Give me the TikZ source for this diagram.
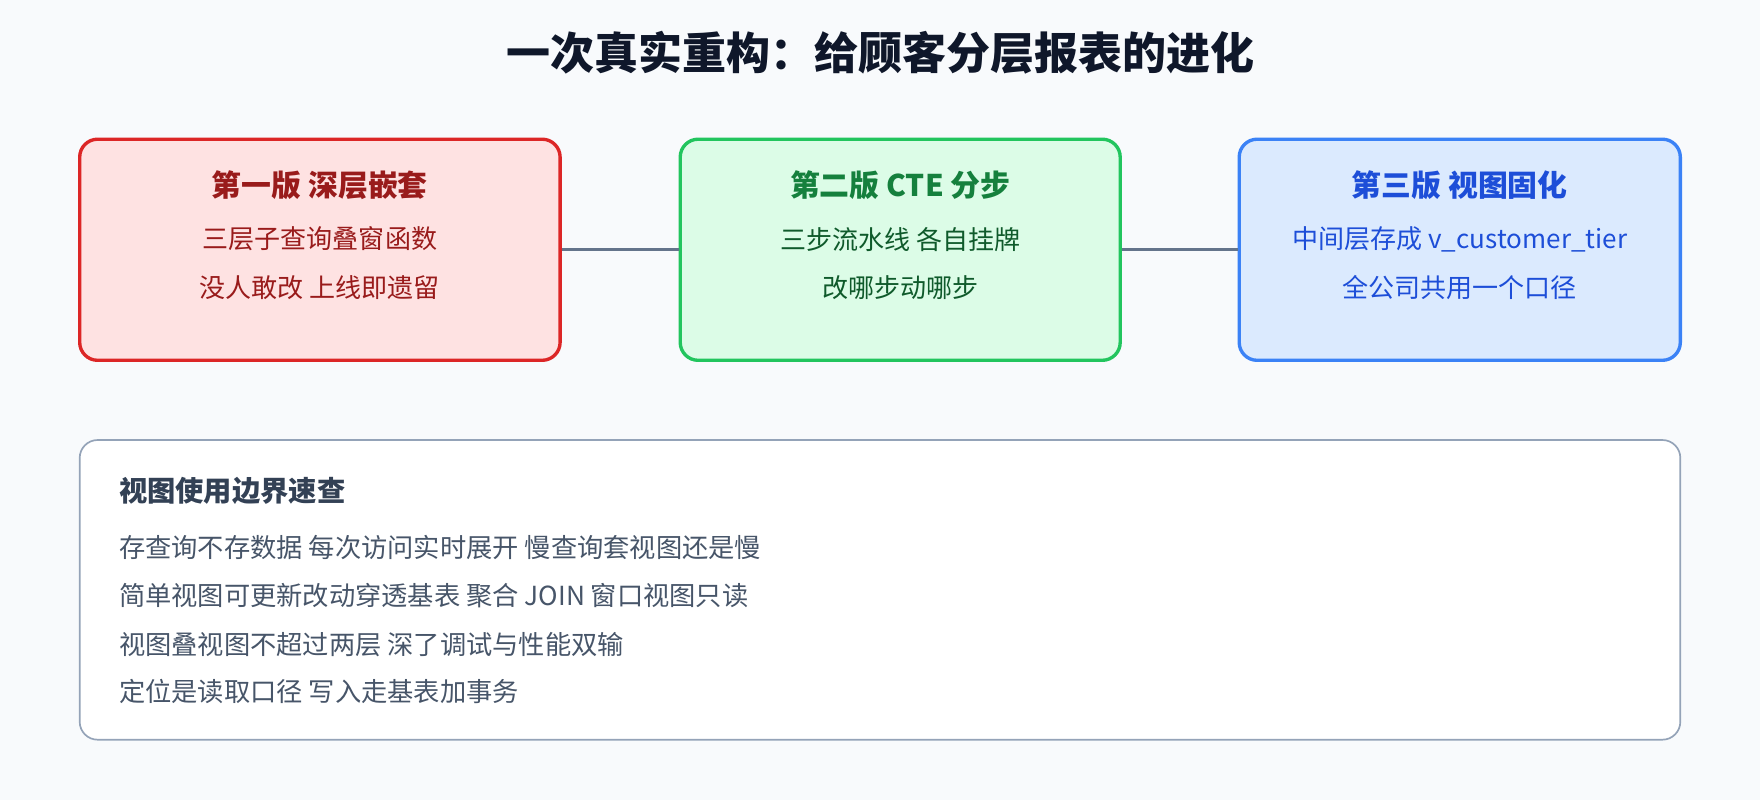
\documentclass[tikz,border=0pt]{standalone}
\usepackage{fontspec}
\setmainfont{Noto Sans CJK SC}
\usetikzlibrary{positioning}
\definecolor{bgcol}{HTML}{F8FAFC}
\definecolor{redfill}{HTML}{FEE2E2}\definecolor{redline}{HTML}{DC2626}\definecolor{redtext}{HTML}{991B1B}
\definecolor{grnfill}{HTML}{DCFCE7}\definecolor{grnline}{HTML}{22C55E}\definecolor{grntext}{HTML}{15803D}
\definecolor{blufill}{HTML}{DBEAFE}\definecolor{bluline}{HTML}{3B82F6}\definecolor{blutext}{HTML}{1D4ED8}
\definecolor{slate}{HTML}{94A3B8}\definecolor{linkcol}{HTML}{64748B}
\definecolor{darktext}{HTML}{0F172A}\definecolor{bodytext}{HTML}{475569}\definecolor{headtext}{HTML}{334155}
\tikzset{
  stage/.style={draw, line width=1.5pt, rounded corners=8pt},
  stagehead/.style={font=\fontsize{13.3}{15}\selectfont\bfseries},
  stageline/.style={font=\fontsize{11.6}{13}\selectfont},
  noteline/.style={anchor=west, text=bodytext, font=\fontsize{11.7}{13}\selectfont},
  link/.style={draw=linkcol, line width=1.5pt}
}
\begin{document}
\begin{tikzpicture}[x=0.5pt,y=-0.5pt]
  % Background and bounding box
  \fill[bgcol] (0,0) rectangle (1568,713);
  \useasboundingbox (0,0) rectangle (1568,713);

  \node[text=darktext, font=\fontsize{19.6}{23}\selectfont\bfseries] (title) at (784,47) {一次真实重构：给顾客分层报表的进化};

  % The three stages
  \node[stage, draw=redline, fill=redfill, minimum width=214pt, minimum height=98.5pt] (v1) at (285,222.5) {};
  \node[stage, draw=grnline, fill=grnfill, minimum width=196pt, minimum height=98.5pt] (v2) at (802,222.5) {};
  \node[stage, draw=bluline, fill=blufill, minimum width=196.5pt, minimum height=98.5pt] (v3) at (1300.5,222.5) {};

  \draw[link] (v1.east) -- (v2.west);
  \draw[link] (v2.east) -- (v3.west);

  \node[stagehead, text=redtext] (v1h) at (285,165) {第一版 深层嵌套};
  \node[stageline, text=redtext] (v1a) at (285,213) {三层子查询叠窗函数};
  \node[stageline, text=redtext] (v1b) at (285,256) {没人敢改 上线即遗留};

  \node[stagehead, text=grntext] (v2h) at (802,165) {第二版 CTE 分步};
  \node[stageline, text=grntext!70!black] (v2a) at (802,213) {三步流水线 各自挂牌};
  \node[stageline, text=grntext!70!black] (v2b) at (802,256) {改哪步动哪步};

  \node[stagehead, text=blutext] (v3h) at (1300.5,165) {第三版 视图固化};
  \node[stageline, text=blutext] (v3a) at (1300.5,213) {中间层存成 v\_customer\_tier};
  \node[stageline, text=blutext] (v3b) at (1300.5,256) {全公司共用一个口径};

  % Notes box
  \node[draw=slate, line width=0.75pt, fill=white, rounded corners=8pt, minimum width=713pt, minimum height=133.5pt] (notes) at (784,525.5) {};
  \node[anchor=west, text=headtext, font=\fontsize{12.6}{14}\selectfont\bfseries] (nh) at (99,437) {视图使用边界速查};
  \foreach \y/\txt in {488/存查询不存数据 每次访问实时展开 慢查询套视图还是慢,
                       531/简单视图可更新改动穿透基表 聚合 JOIN 窗口视图只读,
                       574/视图叠视图不超过两层 深了调试与性能双输,
                       616/定位是读取口径 写入走基表加事务}
    \node[noteline] at (99,\y) {\txt};
\end{tikzpicture}
\end{document}
